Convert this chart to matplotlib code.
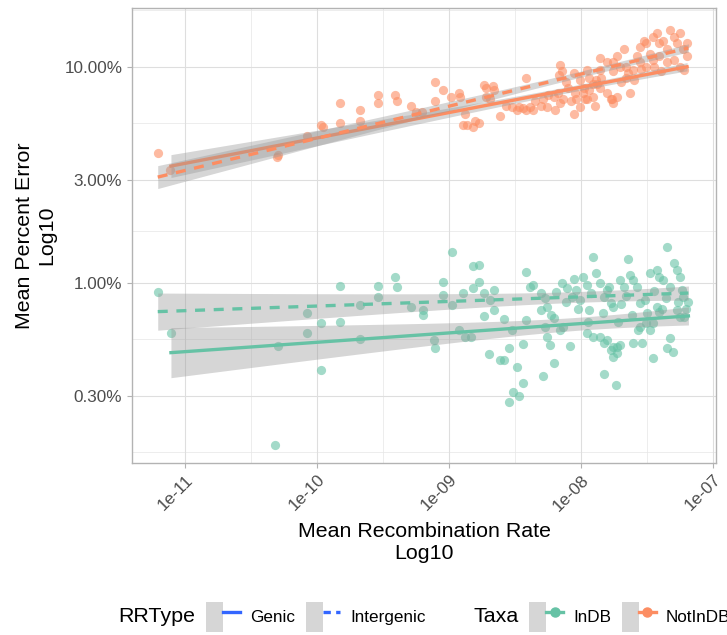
import numpy as np
import matplotlib
matplotlib.use("Agg")
import matplotlib.pyplot as plt
from matplotlib.lines import Line2D
from matplotlib.patches import Patch
from matplotlib.legend_handler import HandlerTuple

plt.rcParams['font.family'] = ['Liberation Sans', 'DejaVu Sans']

# points: log10(rate), log10(percent error)
notin_lx = [-11.21, -11.12, -10.31, -10.30, -10.08, -9.97, -9.96, -9.83, -9.83, -9.68,
            -9.68, -9.54, -9.54, -9.41, -9.40, -9.29, -9.25, -9.21, -9.11, -9.11,
            -9.05, -8.99, -8.93, -8.92, -8.88, -8.87, -8.82, -8.81, -8.78, -8.90,
            -8.74, -8.72, -8.67, -8.66, -8.72, -8.69, -8.62, -8.57, -8.53, -8.49,
            -8.47, -8.44, -8.42, -8.39, -8.37, -8.42, -8.29, -8.26, -8.21, -8.20,
            -8.16, -8.14, -8.16, -8.15, -8.06, -8.04, -8.01, -7.99, -7.96, -7.94,
            -7.91, -8.06, -8.01, -7.96, -7.94, -7.91, -7.89, -7.86, -7.86, -7.81,
            -7.78, -7.76, -7.73, -7.63, -7.76, -7.73, -7.68, -7.66, -7.58, -7.56,
            -7.53, -7.51, -7.48, -7.46, -7.43, -7.41, -7.38, -7.35, -7.33, -7.30,
            -7.28, -7.25, -7.23, -7.20, -7.20, -7.22, -7.86, -7.81, -7.76, -7.71,
            -7.66, -7.61, -7.56, -7.51, -7.46, -7.41, -7.35, -7.30, -7.25, -7.90,
            -7.77, -7.97, -8.17, -8.12, -8.31, -8.35, -8.25, -8.10, -8.05, -7.98,
            -7.88, -7.70, -7.65, -7.55, -7.45, -7.40, -7.60, -8.18, -8.08, -7.85]
notin_ly = [0.60, 0.52, 0.58, 0.59, 0.68, 0.73, 0.72, 0.83, 0.74, 0.80,
            0.75, 0.87, 0.83, 0.87, 0.84, 0.82, 0.79, 0.79, 0.93, 0.84,
            0.89, 0.86, 0.88, 0.86, 0.78, 0.73, 0.72, 0.75, 0.74, 0.73,
            0.915, 0.90, 0.91, 0.89, 0.86, 0.85, 0.77, 0.82, 0.815, 0.80,
            0.815, 0.81, 0.80, 0.815, 0.80, 0.95, 0.85, 0.815, 0.86, 0.80,
            0.83, 0.85, 1.01, 0.98, 0.78, 0.85, 0.815, 0.88, 0.85, 0.89,
            0.86, 0.97, 0.94, 0.985, 0.95, 0.92, 0.94, 0.985, 0.90, 0.88,
            0.85, 0.83, 0.86, 0.88, 1.02, 1.05, 1.08, 1.00, 1.05, 1.09,
            1.12, 1.11, 1.06, 1.14, 1.155, 1.11, 1.12, 1.08, 1.17, 1.14,
            1.11, 1.155, 1.08, 1.11, 1.05, 0.985, 1.04, 1.02, 0.98, 1.00,
            0.95, 0.985, 1.02, 1.00, 1.03, 1.05, 1.02, 1.03, 1.00, 0.82,
            0.85, 0.85, 0.96, 0.93, 0.82, 0.84, 0.87, 0.90, 0.88, 0.90,
            0.92, 0.93, 0.97, 0.99, 1.00, 0.98, 0.94, 0.88, 0.84, 0.95]

indb_lx = [-11.21, -11.11, -10.32, -10.30, -10.08, -10.08, -9.97, -9.97, -9.83, -9.83,
           -9.68, -9.68, -9.54, -9.54, -9.41, -9.40, -9.29, -9.20, -9.20, -9.11,
           -9.12, -9.05, -9.05, -8.98, -8.98, -8.93, -8.88, -8.84, -8.90, -8.82,
           -8.78, -8.82, -8.78, -8.74, -8.66, -8.74, -8.69, -8.66, -8.70, -8.62,
           -8.59, -8.59, -8.55, -8.53, -8.49, -8.55, -8.52, -8.47, -8.44, -8.44,
           -8.42, -8.42, -8.39, -8.37, -8.31, -8.31, -8.26, -8.29, -8.28, -8.26,
           -8.24, -8.23, -8.21, -8.21, -8.19, -8.15, -8.11, -8.16, -8.14, -8.09,
           -8.07, -8.06, -8.04, -8.01, -7.99, -7.96, -7.94, -7.91, -7.89, -7.86,
           -7.83, -7.81, -7.78, -7.76, -7.96, -7.91, -7.86, -7.83, -7.81, -7.78,
           -7.76, -7.73, -7.71, -7.83, -7.74, -7.76, -7.73, -7.71, -7.68, -7.65,
           -7.63, -7.61, -7.58, -7.56, -7.61, -7.54, -7.56, -7.51, -7.48, -7.46,
           -7.46, -7.48, -7.43, -7.41, -7.38, -7.35, -7.33, -7.30, -7.28, -7.25,
           -7.24, -7.23, -7.35, -7.31, -7.33, -7.28, -7.25, -7.22, -7.19, -7.43,
           -7.41, -8.12, -8.03, -7.93, -7.84, -7.70, -7.66, -7.52, -7.45, -7.39,
           -7.27, -7.95, -7.62, -7.50, -8.28, -7.79, -7.72, -7.57, -7.36, -7.21]
indb_ly = [-0.044, -0.234, -0.751, -0.293, -0.142, -0.234, -0.185, -0.404, -0.015, -0.181,
           -0.103, -0.262, -0.015, -0.065, 0.025, -0.019, -0.114, -0.126, -0.150, -0.304,
           -0.265, 0.005, -0.057, 0.144, -0.103, -0.219, -0.250, -0.250, -0.049, 0.077,
           0.082, -0.026, 0.005, -0.049, -0.034, -0.154, -0.080, -0.126, -0.330, -0.358,
           -0.358, -0.169, -0.304, -0.219, -0.392, -0.551, -0.505, -0.523, -0.466, -0.284,
           0.050, -0.173, -0.019, -0.011, -0.049, -0.126, -0.111, -0.432, -0.204, -0.250,
           -0.288, -0.150, -0.165, -0.370, -0.042, -0.003, -0.026, -0.219, -0.204, -0.293,
           -0.065, 0.016, -0.034, -0.080, 0.028, -0.011, -0.126, 0.120, 0.044, -0.003,
           -0.065, -0.034, -0.095, -0.111, -0.234, -0.250, -0.250, -0.281, -0.265, -0.312,
           -0.296, -0.296, -0.288, -0.423, -0.475, -0.343, -0.327, 0.012, -0.019, 0.108,
           0.036, 0.012, -0.019, -0.095, -0.278, -0.281, -0.204, -0.188, -0.219, -0.188,
           -0.350, 0.044, 0.059, 0.028, 0.012, 0.167, -0.019, 0.090, 0.059, 0.028,
           -0.034, -0.065, -0.304, -0.319, -0.257, -0.126, -0.157, -0.157, -0.088, -0.111,
           -0.134, -0.09, -0.12, -0.05, -0.14, -0.10, -0.06, -0.08, -0.04, -0.12,
           -0.09, -0.18, -0.15, -0.14, -0.07, -0.02, -0.18, -0.22, -0.07, -0.12]

# lm fits per Taxa x RRType (log10 space)
fit_taxa = ['InDB', 'InDB', 'NotInDB', 'NotInDB']
fit_type = ['Genic', 'Intergenic', 'Genic', 'Intergenic']
fit_x0 = [-11.11, -11.21, -11.11, -11.21]
fit_x1 = [-7.19, -7.19, -7.20, -7.19]
fit_y0 = [-0.324, -0.134, 0.540, 0.489]
fit_y1 = [-0.154, -0.048, 1.000, 1.087]
fit_se_left = [0.116, 0.086, 0.053, 0.053]
fit_se_min = [0.030, 0.025, 0.014, 0.014]
fit_xbar = [-8.0, -8.0, -8.0, -8.0]

colors = {'InDB': '#66C2A5', 'NotInDB': '#FC8D62'}
styles = {'Genic': '-', 'Intergenic': (0, (3, 2.6))}

fig = plt.figure(figsize=(7.27, 6.35), dpi=100)
ax = fig.add_axes([132 / 727, 1 - 463 / 635, 584 / 727, 455 / 635])

ax.scatter(10 ** np.array(indb_lx), 10 ** np.array(indb_ly), s=44, color=colors['InDB'],
           alpha=0.6, linewidths=0, zorder=3)
ax.scatter(10 ** np.array(notin_lx), 10 ** np.array(notin_ly), s=44, color=colors['NotInDB'],
           alpha=0.6, linewidths=0, zorder=3)

for i in range(4):
    x = np.linspace(fit_x0[i], fit_x1[i], 120)
    y = fit_y0[i] + (fit_y1[i] - fit_y0[i]) * (x - fit_x0[i]) / (fit_x1[i] - fit_x0[i])
    k2 = (fit_se_left[i] ** 2 - fit_se_min[i] ** 2) / (fit_x0[i] - fit_xbar[i]) ** 2
    hw = np.sqrt(fit_se_min[i] ** 2 + k2 * (x - fit_xbar[i]) ** 2)
    ax.fill_between(10 ** x, 10 ** (y - hw), 10 ** (y + hw), color='#999999', alpha=0.4,
                    linewidth=0, zorder=4 + 2 * i)
    ax.plot(10 ** x, 10 ** y, color=colors[fit_taxa[i]], lw=2.4, ls=styles[fit_type[i]],
            zorder=5 + 2 * i)

ax.set_xscale('log')
ax.set_yscale('log')
ax.set_xlim(10 ** -11.405, 10 ** -6.981)
ax.set_ylim(10 ** -0.835, 10 ** 1.272)

xt = [1e-11, 1e-10, 1e-9, 1e-8, 1e-7]
xt_labels = ['1e-11', '1e-10', '1e-09', '1e-08', '1e-07']
yt = [0.3, 1, 3, 10]
yt_labels = ['0.30%', '1.00%', '3.00%', '10.00%']
ax.set_xticks(xt)
ax.set_xticklabels(xt_labels, rotation=45, ha='right', va='top', rotation_mode='anchor')
ax.set_yticks(yt)
ax.set_yticklabels(yt_labels)
ax.minorticks_off()

# minor grid at midpoints (log space), like ggplot
lyt = np.log10(yt)
ext = np.concatenate([[lyt[0] - (lyt[1] - lyt[0])], lyt, [lyt[-1] + (lyt[1] - lyt[0])]])
for m in (ext[:-1] + ext[1:]) / 2:
    ax.axhline(10 ** m, color='#E6E6E6', lw=0.5, zorder=0)
for m in np.arange(-11.5, -6.9, 1.0):
    ax.axvline(10 ** m, color='#E6E6E6', lw=0.5, zorder=0)
for v in xt:
    ax.axvline(v, color='#DEDEDE', lw=0.8, zorder=0)
for v in yt:
    ax.axhline(v, color='#DEDEDE', lw=0.8, zorder=0)

for sp in ax.spines.values():
    sp.set_color('#B3B3B3')
    sp.set_linewidth(1.0)
ax.tick_params(colors='#B3B3B3', labelcolor='#4D4D4D', labelsize=12.3, length=3.5, width=0.8)
ax.tick_params(axis='x', pad=3)

ax.set_xlabel('Mean Recombination Rate\nLog10', fontsize=15.4, labelpad=6, linespacing=1.2)
ax.set_ylabel('Mean Percent Error\nLog10', fontsize=15.4, labelpad=6, linespacing=1.2)

# legends along the bottom
key_bg = '#D6D6D6'
blue = '#3366FF'
rr_handles = [(Patch(facecolor=key_bg, edgecolor='none'), Line2D([], [], color=blue, lw=2.4)),
              (Patch(facecolor=key_bg, edgecolor='none'),
               Line2D([], [], color=blue, lw=2.4, ls=(0, (2.2, 1.6))))]
tx_handles = [(Patch(facecolor=key_bg, edgecolor='none'),
               Line2D([], [], color=colors[t], lw=2.4, marker='o', markersize=6.5))
              for t in ['InDB', 'NotInDB']]

leg_y = 1 - 617 / 635
fig.text(118 / 727, leg_y, 'RRType', fontsize=15.4, ha='left', va='center')
fig.text(473 / 727, leg_y, 'Taxa', fontsize=15.4, ha='left', va='center')
leg_kw = dict(loc='center left', ncol=2, frameon=False, fontsize=12.3, handlelength=2.0,
              handleheight=2.3, handletextpad=0.6, columnspacing=0.6, borderpad=0,
              borderaxespad=0, numpoints=1, handler_map={tuple: HandlerTuple(ndivide=None)})
l1 = fig.legend(rr_handles, ['Genic', 'Intergenic'], bbox_to_anchor=(206 / 727, leg_y), **leg_kw)
l2 = fig.legend(tx_handles, ['InDB', 'NotInDB'], bbox_to_anchor=(529 / 727, leg_y), **leg_kw)

fig.savefig('out.png', dpi=100)
